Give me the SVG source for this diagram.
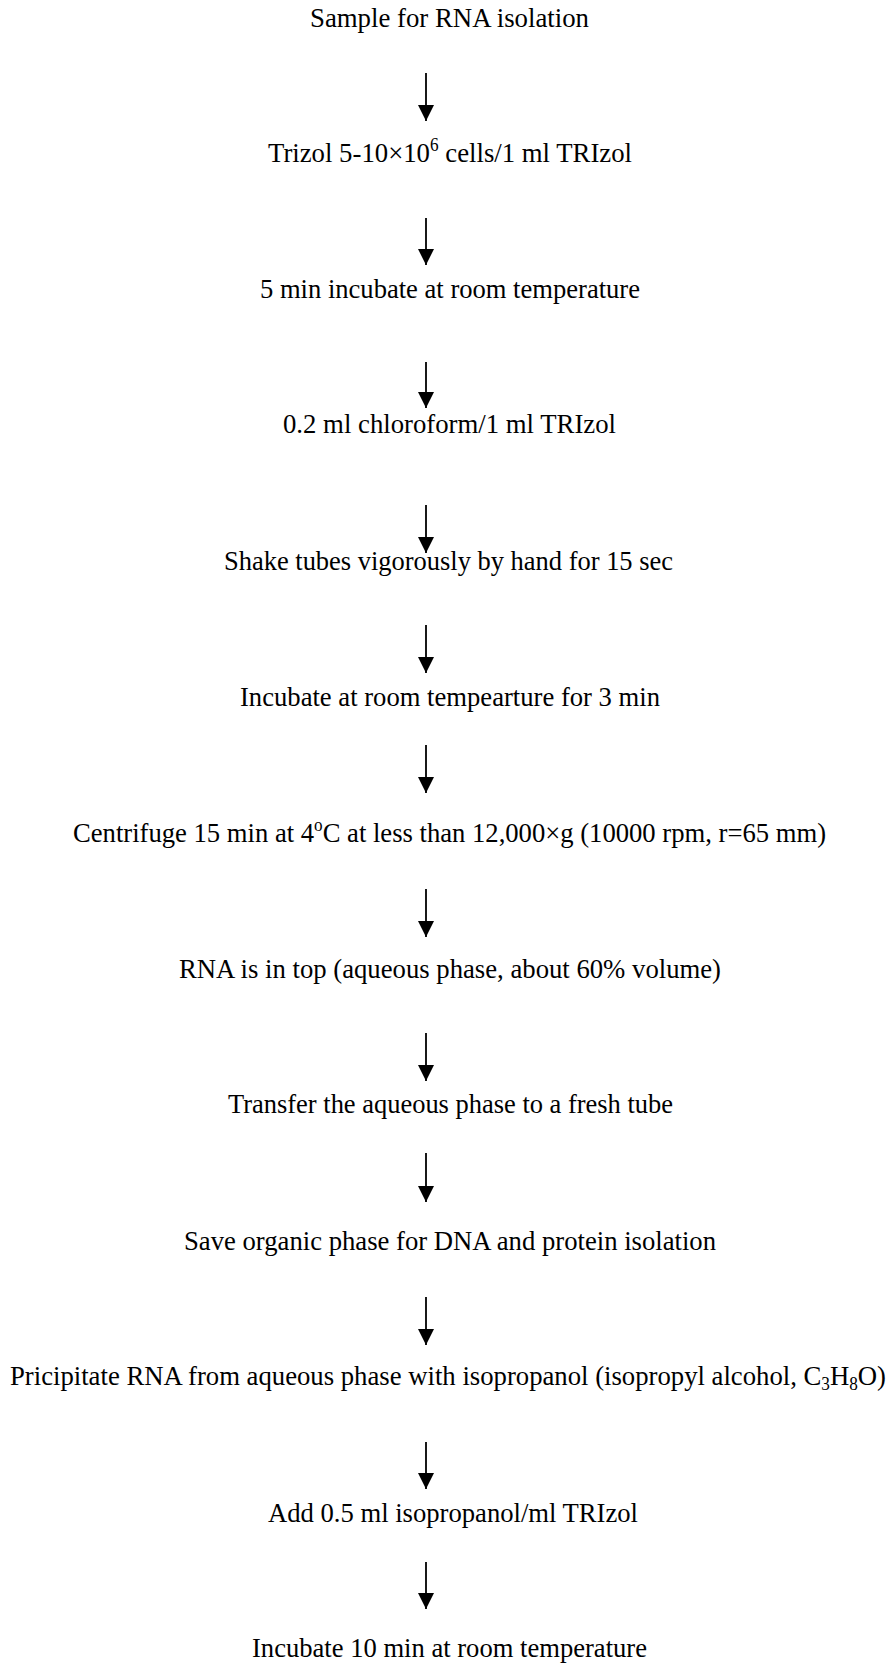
<svg xmlns="http://www.w3.org/2000/svg" width="893" height="1664" viewBox="0 0 893 1664">
<style>
text{font-family:"Liberation Serif","Times New Roman",serif;font-size:28px;fill:#000}
.s{font-size:18px}
.c line{stroke:#000;stroke-width:1.8}
</style>
<defs>
<marker id="ah" markerUnits="userSpaceOnUse" markerWidth="16" markerHeight="16" viewBox="0 0 16 16" refX="16" refY="8" orient="auto">
<path d="M0,0 L16,8 L0,16 Z" fill="#000"/>
</marker>
</defs>
<rect width="893" height="1664" fill="#fff"/>
<g class="c" id="connectors">
<line x1="426" y1="73" x2="426" y2="121" marker-end="url(#ah)"/>
<line x1="426" y1="218" x2="426" y2="265" marker-end="url(#ah)"/>
<line x1="426" y1="362" x2="426" y2="408" marker-end="url(#ah)"/>
<line x1="426" y1="505" x2="426" y2="553" marker-end="url(#ah)"/>
<line x1="426" y1="625" x2="426" y2="673" marker-end="url(#ah)"/>
<line x1="426" y1="745" x2="426" y2="793" marker-end="url(#ah)"/>
<line x1="426" y1="889" x2="426" y2="937" marker-end="url(#ah)"/>
<line x1="426" y1="1033" x2="426" y2="1081" marker-end="url(#ah)"/>
<line x1="426" y1="1153" x2="426" y2="1202" marker-end="url(#ah)"/>
<line x1="426" y1="1297" x2="426" y2="1345" marker-end="url(#ah)"/>
<line x1="426" y1="1442" x2="426" y2="1489" marker-end="url(#ah)"/>
<line x1="426" y1="1562" x2="426" y2="1609" marker-end="url(#ah)"/>
</g>
<g id="n1"><text x="310" y="27" textLength="279" lengthAdjust="spacingAndGlyphs">Sample for RNA isolation</text></g>
<g id="n2"><text x="268" y="162" textLength="364" lengthAdjust="spacingAndGlyphs">Trizol 5-10×10<tspan class="s" dy="-11">6</tspan><tspan dy="11"> cells/1 ml TRIzol</tspan></text></g>
<g id="n3"><text x="260" y="298" textLength="380" lengthAdjust="spacingAndGlyphs">5 min incubate at room temperature</text></g>
<g id="n4"><text x="283" y="433" textLength="333" lengthAdjust="spacingAndGlyphs">0.2 ml chloroform/1 ml TRIzol</text></g>
<g id="n5"><text x="224" y="570" textLength="449" lengthAdjust="spacingAndGlyphs">Shake tubes vigorously by hand for 15 sec</text></g>
<g id="n6"><text x="240" y="706" textLength="420" lengthAdjust="spacingAndGlyphs">Incubate at room tempearture for 3 min</text></g>
<g id="n7"><text x="73" y="842" textLength="753" lengthAdjust="spacingAndGlyphs">Centrifuge 15 min at 4<tspan class="s" dy="-11">o</tspan><tspan dy="11">C at less than 12,000×g (10000 rpm, r=65 mm)</tspan></text></g>
<g id="n8"><text x="179" y="978" textLength="542" lengthAdjust="spacingAndGlyphs">RNA is in top (aqueous phase, about 60% volume)</text></g>
<g id="n9"><text x="228" y="1113" textLength="445" lengthAdjust="spacingAndGlyphs">Transfer the aqueous phase to a fresh tube</text></g>
<g id="n10"><text x="184" y="1250" textLength="532" lengthAdjust="spacingAndGlyphs">Save organic phase for DNA and protein isolation</text></g>
<g id="n11"><text x="10" y="1385" textLength="876" lengthAdjust="spacingAndGlyphs">Pricipitate RNA from aqueous phase with isopropanol (isopropyl alcohol, C<tspan class="s" dy="5">3</tspan><tspan dy="-5">H</tspan><tspan class="s" dy="5">8</tspan><tspan dy="-5">O)</tspan></text></g>
<g id="n12"><text x="268" y="1522" textLength="370" lengthAdjust="spacingAndGlyphs">Add 0.5 ml isopropanol/ml TRIzol</text></g>
<g id="n13"><text x="252" y="1657" textLength="395" lengthAdjust="spacingAndGlyphs">Incubate 10 min at room temperature</text></g>
</svg>
